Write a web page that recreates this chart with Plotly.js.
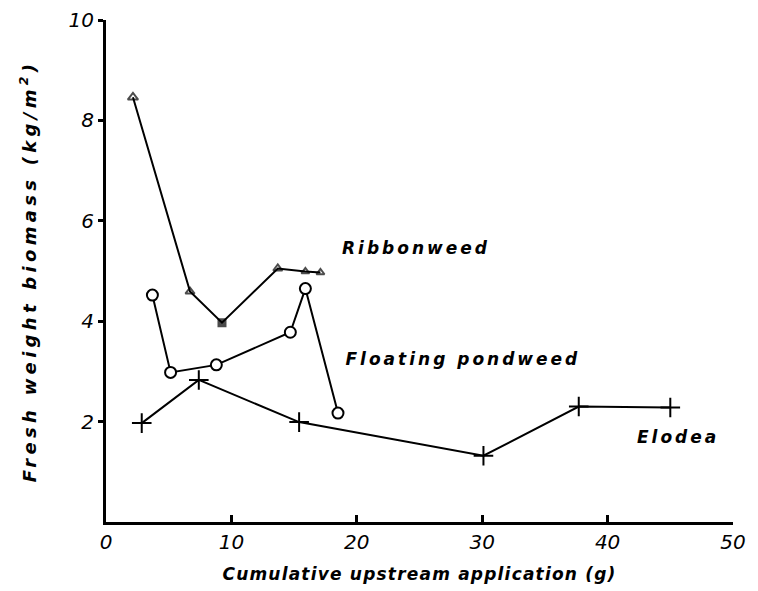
<!DOCTYPE html>
<html>
<head>
<meta charset="utf-8">
<script src="https://cdn.plot.ly/plotly-3.0.1.min.js"></script>
<style>
html,body{margin:0;padding:0;background:#fff}
#chart{width:758px;height:591px}
#chart .annotation-text{letter-spacing:3px}
#chart .xtitle{letter-spacing:1.2px}
#chart .ytitle{letter-spacing:4.3px}
</style>
</head>
<body>
<div id="chart"></div>
<script>
// Data
const ribbonX = [2.15, 6.7, 9.25, 13.7, 15.9, 17.1];
const ribbonY = [8.46, 4.59, 3.97, 5.05, 4.99, 4.97];
const pondX = [3.7, 5.15, 8.8, 14.7, 15.9, 18.5];
const pondY = [4.52, 2.98, 3.13, 3.78, 4.65, 2.17];
const elodeaX = [2.85, 7.4, 15.4, 30.1, 37.7, 45.0];
const elodeaY = [1.97, 2.83, 1.99, 1.32, 2.30, 2.28];
const seriesNames = ["Ribbonweed", "Floating pondweed", "Elodea"];
const labelX = [24.8, 28.5, 45.6];
const labelY = [5.45, 3.25, 1.70];
const xTicks = [0, 10, 20, 30, 40, 50];
const yTicks = [2, 4, 6, 8, 10];

const lineStyle = {color: "#000", width: 2};
const traces = [
  {x: ribbonX, y: ribbonY, name: seriesNames[0], mode: "lines+markers", line: lineStyle,
   marker: {symbol: ["triangle-up-open","triangle-up-open","square","triangle-up-open","triangle-up-open","triangle-up-open"],
            size: [9,8,7,8,7,7], color: "#000", line: {color: "#000", width: 2}}},
  {x: pondX, y: pondY, name: seriesNames[1], mode: "lines+markers", line: lineStyle,
   marker: {symbol: "circle", size: 11, color: "#fff", line: {color: "#000", width: 2}}},
  {x: elodeaX, y: elodeaY, name: seriesNames[2], mode: "lines+markers", line: lineStyle,
   marker: {symbol: "cross-thin-open", size: 14, color: "#000", line: {color: "#000", width: 2}}}
];

const labelFont = {family: "DejaVu Sans, sans-serif", size: 17, color: "#000", weight: 700, style: "italic"};
const annotations = seriesNames.map((n, i) => ({
  x: labelX[i], y: labelY[i], xref: "x", yref: "y", text: n, showarrow: false,
  font: labelFont, xanchor: "center", yanchor: "middle"
}));

const tickFont = {family: "DejaVu Sans, sans-serif", size: 20, color: "#000", style: "italic", weight: 300};

const layout = {
  width: 758, height: 591,
  margin: {l: 106, r: 25, t: 20, b: 69},
  paper_bgcolor: "#fff", plot_bgcolor: "#fff",
  showlegend: false,
  xaxis: {
    range: [0, 50], tickvals: xTicks, ticktext: xTicks.map(String),
    showgrid: false, zeroline: false, showline: true, linecolor: "#000", linewidth: 3,
    ticks: "inside", ticklen: 7, tickwidth: 3, tickcolor: "#000",
    tickfont: tickFont,
    title: {text: "Cumulative upstream application (g)", font: labelFont, standoff: 16}
  },
  yaxis: {
    range: [0, 10], tickvals: yTicks, ticktext: yTicks.map(String),
    showgrid: false, zeroline: false, showline: true, linecolor: "#000", linewidth: 3,
    ticks: "outside", ticklen: 5, tickwidth: 3, tickcolor: "#000",
    tickfont: tickFont,
    title: {text: "\u00A0\u00A0\u00A0Fresh weight biomass (kg/m<sup>2</sup>)", font: Object.assign({}, labelFont, {size: 18}), standoff: 28}
  },
  annotations: annotations
};

Plotly.newPlot("chart", traces, layout, {displayModeBar: false, staticPlot: true});
</script>
</body>
</html>
